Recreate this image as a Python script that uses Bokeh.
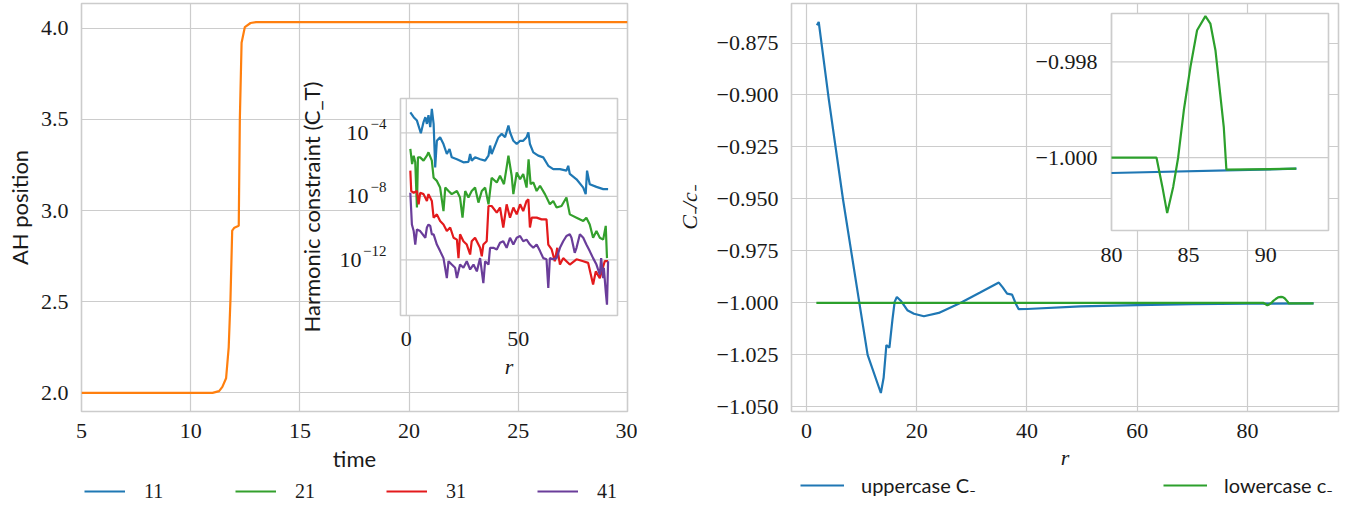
import math
from bokeh.plotting import figure
from bokeh.models import Range1d, LogScale, FixedTicker, Legend, LegendItem
from bokeh.layouts import row, column
from bokeh.embed import file_html
from bokeh.resources import INLINE
from bokeh.core.properties import value

# ---------------- data: left panel (apparent horizon position) ----------------
ah_time = [5.0, 11.0, 11.3, 11.45, 11.62, 11.74, 11.82, 11.9, 12.0, 12.2, 12.25,
           12.33, 12.48, 12.74, 13.0, 30.0]
ah_pos = [2.0, 2.0, 2.01, 2.033, 2.08, 2.25, 2.51, 2.89, 2.906, 2.916, 3.5,
          3.92, 4.006, 4.028, 4.033, 4.033]

# inset: harmonic constraint vs r for resolutions 11, 21, 31, 41
ct_r_11 = [1.8, 3.3, 4.75, 6.5, 7.7, 8.5, 9.2, 9.9, 10.7, 11.4, 12.2, 12.9, 13.65,
           15.1, 16.6, 18.1, 19.3, 20.3, 22.6, 25.5, 27.75, 28.5, 29.2, 30.7, 33.0,
           35.2, 36.7, 37.4, 38.1, 39.6, 41.1, 42.6, 44.1, 45.6, 46.3, 47.8, 49.3,
           50.8, 52.2, 53.7, 54.5, 55.2, 56.7, 58.9, 61.15, 63.4, 65.6, 68.6, 71.5,
           72.3, 73.0, 76.0, 79.0, 80.1, 80.7, 81.9, 84.9, 87.9, 90.1]
ct_11 = [2.0e-3, 9.8e-4, 6.0e-4, 9.5e-5, 4.8e-4, 9.8e-4, 3.7e-4, 1.3e-3, 2.3e-4,
         3.3e-3, 3.7e-4, 6.8e-7, 3.2e-5, 5.4e-5, 2.0e-5, 4.7e-6, 9.8e-6, 2.9e-6,
         2.2e-6, 1.4e-6, 1.5e-6, 4.7e-6, 1.8e-6, 2.9e-6, 2.2e-6, 1.8e-6, 3.7e-6,
         1.6e-5, 4.7e-6, 1.6e-5, 5.4e-5, 8.7e-5, 5.4e-5, 2.9e-4, 1.1e-4, 3.2e-5,
         2.0e-5, 3.2e-5, 3.2e-5, 5.4e-5, 1.1e-4, 2.0e-5, 6.0e-6, 3.7e-6, 2.9e-6,
         8.5e-7, 5.2e-7, 5.2e-7, 4.2e-7, 8.5e-7, 2.6e-7, 1.2e-7, 3.6e-8, 1.4e-8,
         4.2e-7, 5.9e-8, 4.0e-8, 2.9e-8, 2.9e-8]

ct_r_21 = [1.8, 2.6, 3.3, 4.0, 4.75, 5.2, 6.2, 7.7, 9.2, 9.9, 11.4, 12.2, 13.65,
           15.1, 16.6, 17.4, 18.85, 20.3, 22.6, 24.0, 25.1, 26.3, 27.75, 29.2, 30.7,
           32.2, 33.7, 35.2, 36.7, 38.1, 40.4, 41.85, 43.6, 44.8, 45.6, 47.05, 47.8,
           49.3, 50.8, 52.2, 53.7, 54.6, 55.5, 56.7, 58.2, 59.7, 61.9, 64.1, 65.6,
           67.1, 69.3, 71.5, 73.0, 76.0, 79.0, 80.4, 81.9, 83.4, 84.9, 86.4, 87.9,
           89.05, 89.6]
ct_21 = [9.8e-6, 1.1e-6, 3.7e-6, 1.4e-6, 2.0e-9, 2.9e-6, 2.9e-6, 1.8e-6, 3.7e-6,
         6.0e-6, 1.8e-6, 1.5e-7, 9.5e-8, 3.6e-8, 1.2e-9, 3.6e-8, 2.2e-8, 1.4e-8,
         2.2e-8, 8.5e-9, 4.6e-10, 2.2e-8, 8.5e-9, 2.2e-8, 3.6e-8, 4.1e-9, 2.2e-8,
         3.6e-8, 3.2e-9, 1.5e-7, 7.6e-8, 2.0e-7, 5.9e-8, 6.8e-7, 3.7e-6, 2.0e-7,
         1.4e-8, 3.2e-7, 1.2e-7, 2.6e-7, 3.6e-8, 2.2e-6, 5.9e-8, 7.6e-8, 2.2e-8,
         4.7e-8, 1.4e-8, 3.2e-9, 5.2e-9, 2.0e-9, 2.5e-9, 8.5e-9, 7.4e-10, 4.6e-10,
         2.8e-10, 4.6e-10, 1.7e-10, 2.5e-11, 6.6e-11, 2.5e-11, 1.9e-11, 1.4e-10,
         1.3e-12]

ct_r_31 = [1.8, 2.2, 3.3, 4.75, 5.5, 6.2, 7.7, 9.2, 9.9, 11.4, 12.2, 13.65, 15.1,
           16.6, 18.1, 19.6, 21.1, 22.6, 23.3, 24.0, 25.5, 27.0, 28.5, 29.2, 30.7,
           32.95, 33.7, 34.4, 35.9, 36.7, 38.1, 40.4, 41.85, 43.3, 44.8, 46.3, 47.8,
           49.3, 50.8, 52.2, 53.7, 54.5, 55.2, 56.0, 58.2, 60.4, 62.6, 63.4, 64.9,
           66.3, 67.4, 68.6, 70.05, 71.5, 73.0, 76.0, 79.0, 81.2, 83.4, 84.6, 86.4,
           88.6, 90.1]
ct_31 = [4.2e-7, 2.2e-8, 1.7e-8, 2.2e-8, 3.2e-9, 1.7e-8, 1.4e-8, 5.2e-9, 1.4e-8,
         5.2e-9, 4.6e-10, 7.4e-10, 2.8e-10, 1.7e-10, 6.6e-11, 1.1e-10, 2.5e-11,
         1.9e-11, 1.3e-12, 4.1e-11, 1.5e-11, 9.3e-12, 2.2e-12, 1.5e-11, 2.5e-11,
         5.8e-12, 1.7e-12, 9.3e-12, 1.5e-11, 2.5e-9, 2.5e-9, 9.5e-10, 2.0e-9,
         1.1e-10, 3.2e-9, 4.6e-10, 2.0e-9, 7.4e-10, 3.2e-9, 1.2e-9, 5.2e-9, 6.6e-9,
         1.1e-10, 4.6e-10, 4.6e-10, 3.6e-10, 3.6e-10, 9.3e-12, 4.6e-12, 8.3e-13,
         5.8e-12, 5.1e-13, 1.3e-12, 8.3e-13, 5.1e-13, 1.1e-12, 8.3e-13, 6.5e-13,
         2.8e-14, 1.9e-13, 7.2e-14, 8.3e-13, 8.3e-13]

ct_r_41 = [1.8, 2.5, 3.3, 4.0, 4.75, 6.2, 8.5, 9.2, 9.9, 10.7, 11.4, 12.2, 13.65,
           15.1, 16.6, 18.1, 18.85, 20.3, 21.8, 22.6, 24.0, 25.5, 27.0, 28.5, 30.0,
           31.5, 32.95, 34.4, 35.2, 36.7, 37.4, 38.9, 40.4, 41.85, 43.3, 44.8, 46.3,
           47.8, 49.3, 50.8, 52.2, 53.7, 55.2, 56.7, 58.2, 59.7, 61.15, 62.6, 63.4,
           64.1, 65.6, 67.1, 68.6, 70.05, 71.5, 73.0, 73.75, 75.2, 76.0, 77.5, 79.0,
           80.4, 81.9, 83.4, 84.9, 85.5, 86.4, 87.0, 87.9, 88.2, 89.05, 89.6, 90.1]
ct_41 = [1.7e-8, 1.7e-10, 6.6e-11, 9.3e-12, 8.3e-11, 6.6e-11, 2.5e-11, 1.1e-10,
         1.7e-10, 1.4e-10, 4.1e-11, 4.1e-11, 9.3e-12, 3.6e-12, 1.3e-12, 7.2e-14,
         8.3e-13, 5.1e-13, 3.2e-13, 7.2e-14, 5.1e-13, 3.2e-13, 8.3e-13, 2.5e-13,
         5.1e-13, 1.9e-13, 1.3e-12, 3.5e-14, 8.3e-13, 5.1e-13, 5.8e-12, 5.8e-12,
         4.6e-12, 1.2e-11, 1.5e-11, 5.8e-12, 2.5e-11, 9.3e-12, 2.5e-11, 3.2e-11,
         1.5e-11, 1.9e-11, 9.3e-12, 5.8e-12, 9.3e-12, 3.6e-12, 1.3e-12, 1.1e-12,
         1.7e-14, 1.3e-12, 1.1e-12, 1.3e-12, 5.8e-12, 1.5e-11, 3.2e-11, 4.1e-11,
         2.5e-11, 2.8e-12, 5.8e-12, 4.1e-11, 2.5e-11, 9.3e-12, 3.6e-12, 1.3e-12,
         5.1e-13, 2.8e-13, 1.2e-13, 1.3e-12, 7.2e-14, 3.2e-13, 1.0e-14, 1.5e-15,
         8.3e-13]

ct_labels = ["11", "21", "31", "41"]

# ---------------- data: right panel (C_- / c_-) ----------------
cm_r_upper = [1.9, 2.23, 2.8, 4.05, 6.65, 9.6, 11.1, 13.5, 14.0, 14.5, 15.05, 15.6,
              16.0, 16.4, 17.2, 18.3, 19.5, 21.3, 24.0, 27.9, 31.5, 34.9, 35.6,
              36.4, 37.3, 38.0, 38.5, 40.0, 49.7, 60.0, 70.0, 80.0, 92.0]
cm_upper = [-0.8665, -0.8649, -0.8765, -0.902, -0.9505, -1.0, -1.025, -1.0433,
            -1.036, -1.0203, -1.0215, -1.008, -0.9995, -0.9971, -0.9992, -1.0035,
            -1.0052, -1.0064, -1.0048, -1.0, -0.9950, -0.9902, -0.9925, -0.9955,
            -0.996, -1.0005, -1.003, -1.0029, -1.0016, -1.0010, -1.0006, -1.00032,
            -1.00023]
cm_r_lower = [1.8, 80.0, 82.92, 83.3, 83.61, 84.0, 84.32, 84.69, 85.12, 85.55,
              86.09, 86.41, 86.74, 87.28, 87.45, 91.97]
cm_lower = [-1.0, -1.0, -1.0, -1.00061, -1.001157, -1.00061, -1.0, -0.99901,
            -0.998104, -0.99734, -0.997045, -0.99720, -0.997756, -0.99936,
            -1.00025, -1.00023]
cm_labels = ["uppercase C₋", "lowercase c₋"]

# ---------------- ticks ----------------
left_xticks = [5, 10, 15, 20, 25, 30]
left_yticks = [2.0, 2.5, 3.0, 3.5, 4.0]
left_ytick_labels = ["2.0", "2.5", "3.0", "3.5", "4.0"]
in1_xticks = [0, 50]
in1_xtick_labels = ["0", "50"]
in1_yticks = [1e-4, 1e-8, 1e-12]
in1_ytick_base = ["10", "10", "10"]
in1_ytick_exp = ["−4", "−8", "−12"]
right_xticks = [0, 20, 40, 60, 80]
right_yticks = [-0.875, -0.9, -0.925, -0.95, -0.975, -1.0, -1.025, -1.05]
right_ytick_labels = ["−0.875", "−0.900", "−0.925", "−0.950", "−0.975",
                      "−1.000", "−1.025", "−1.050"]
in2_xticks = [80, 85, 90]
in2_xtick_labels = ["80", "85", "90"]
in2_yticks = [-0.998, -1.0]
in2_ytick_labels = ["−0.998", "−1.000"]

# ---------------- styling ----------------
GRID = "#cccccc"
TXT = "#1a1a1a"
SERIF = "Liberation Serif"
SANS = "Lato"
TICK_SIZE = "22px"
LABEL_SIZE = "22px"
LW = 2.2
C_ORANGE = "#ff7f0e"
C_BLUE = "#1f77b4"
C_GREEN = "#2ca02c"
INSET_COLORS = ["#1f78b4", "#33a02c", "#e31a1c", "#6a3d9a"]
FRAME_H = 408
TOTAL_H = 506
W1, W2 = 637, 714


def outer(a, b, f0, f1):
    s = (b - a) / (f1 - f0)
    return a - s * f0, a + s * (1.0 - f0)


def style(p, xticks, yticks, ylabels):
    p.background_fill_color = "white"
    p.border_fill_color = "white"
    p.outline_line_color = GRID
    p.outline_line_width = 1.6
    p.grid.grid_line_color = GRID
    p.grid.grid_line_width = 1.2
    p.xaxis.ticker = FixedTicker(ticks=xticks)
    p.yaxis.ticker = FixedTicker(ticks=yticks)
    p.yaxis.major_label_overrides = {t: l for t, l in zip(yticks, ylabels)}
    for ax in p.axis:
        ax.axis_line_color = None
        ax.major_tick_line_color = None
        ax.minor_tick_line_color = None
        ax.major_tick_out = 0
        ax.major_tick_in = 0
        ax.major_label_text_font = SERIF
        ax.major_label_text_font_size = TICK_SIZE
        ax.major_label_text_color = TXT
        ax.axis_label_text_font_size = LABEL_SIZE
        ax.axis_label_text_color = TXT
        ax.axis_label_text_font_style = "normal"
    p.xaxis.major_label_standoff = 12
    p.yaxis.major_label_standoff = 13


def inset(p, xr, yr, f, g, xticks, xlabels, yticks, log=False):
    (x0, x1), (y0, y1) = xr, yr
    p.extra_x_ranges["ix"] = Range1d(*outer(x0, x1, f[0], f[1]))
    if log:
        lo, hi = outer(math.log10(y0), math.log10(y1), g[0], g[1])
        p.extra_y_ranges["iy"] = Range1d(10 ** lo, 10 ** hi)
        p.extra_y_scales["iy"] = LogScale()
    else:
        p.extra_y_ranges["iy"] = Range1d(*outer(y0, y1, g[0], g[1]))
    kw = dict(x_range_name="ix", y_range_name="iy")
    p.quad(left=[x0], right=[x1], bottom=[y0], top=[y1], fill_color="white",
           line_color=GRID, line_width=1.6, **kw)
    p.segment(x0=xticks, x1=xticks, y0=[y0] * len(xticks), y1=[y1] * len(xticks),
              line_color=GRID, line_width=1.2, **kw)
    p.segment(x0=[x0] * len(yticks), x1=[x1] * len(yticks), y0=yticks, y1=yticks,
              line_color=GRID, line_width=1.2, **kw)
    p.text(x=xticks, y=[y0] * len(xticks), text=xlabels, y_offset=24,
           text_align="center", text_baseline="middle", text_font=value(SERIF),
           text_font_size=TICK_SIZE, text_color=TXT, **kw)
    return kw


def ylabels_plain(p, kw, x0, yticks, labels):
    p.text(x=[x0] * len(yticks), y=yticks, text=labels, x_offset=-14,
           text_align="right", text_baseline="middle", text_font=value(SERIF),
           text_font_size=TICK_SIZE, text_color=TXT, **kw)


def legend_strip(width, height, series, labels, colors, loc, glyph_w, standoff,
                 label_w, font):
    """A strip under a panel that carries the panel's legend.  The series are
    re-drawn here (outside the strip's visible range) only so that the legend
    has renderers with the right line styles."""
    q = figure(width=width, height=height, x_range=Range1d(-3, -2),
               y_range=Range1d(0, 1), x_axis_type=None, y_axis_type=None,
               output_backend="svg", toolbar_location=None, min_border=0,
               outline_line_color=None)
    q.background_fill_color = "white"
    q.border_fill_color = "white"
    q.grid.visible = False
    rs = [q.line(xs, ys, line_color=c, line_width=LW) for (xs, ys), c in zip(series, colors)]
    leg = Legend(items=[LegendItem(label=l, renderers=[r]) for l, r in zip(labels, rs)],
                 orientation="horizontal", location=loc, margin=0, padding=0,
                 spacing=0, glyph_width=glyph_w, glyph_height=24,
                 label_standoff=standoff, label_width=label_w, label_height=24,
                 border_line_color=None, background_fill_alpha=0,
                 label_text_font=font, label_text_font_size="20px",
                 label_text_color=TXT)
    q.add_layout(leg, "center")
    return q


# ================= left figure =================
P1_BOTTOM = 68
p1 = figure(frame_width=546, frame_height=FRAME_H, x_range=Range1d(5, 30),
            y_range=Range1d(1.898, 4.135), output_backend="svg",
            toolbar_location=None, min_border_left=81, min_border_right=10,
            min_border_top=3, min_border_bottom=P1_BOTTOM)
style(p1, left_xticks, left_yticks, left_ytick_labels)
p1.xaxis.axis_label = "time"
p1.yaxis.axis_label = "AH position"
p1.xaxis.axis_label_text_font = SANS
p1.yaxis.axis_label_text_font = SANS
p1.xaxis.axis_label_standoff = 4
p1.yaxis.axis_label_standoff = 5
p1.line(ah_time, ah_pos, line_color=C_ORANGE, line_width=LW)

in1_x = (-2.6, 94.3)
in1_y = (10 ** -15.5, 10 ** -1.83)
kw1 = inset(p1, in1_x, in1_y, (0.5842, 0.9817), (0.2353, 0.7672),
            in1_xticks, in1_xtick_labels, in1_yticks, log=True)
# power-of-ten labels: mantissa "10" + raised exponent
exp_w = [7.0 * sum(1 for ch in e if ch.isdigit()) + 10.0 * e.count("−") for e in in1_ytick_exp]
p1.text(x=[in1_x[0]] * 3, y=in1_yticks, text=in1_ytick_exp, x_offset=-14,
        y_offset=-9, text_align="right", text_baseline="middle",
        text_font=value(SERIF), text_font_size="15px", text_color=TXT, **kw1)
p1.text(x=[in1_x[0]] * 3, y=in1_yticks, text=in1_ytick_base,
        x_offset=[-15 - w for w in exp_w], text_align="right",
        text_baseline="middle", text_font=value(SERIF),
        text_font_size=TICK_SIZE, text_color=TXT, **kw1)

series1 = [(ct_r_11, ct_11), (ct_r_21, ct_21), (ct_r_31, ct_31), (ct_r_41, ct_41)]
for (rr, vv), col in zip(series1, INSET_COLORS):
    p1.line(rr, vv, line_color=col, line_width=LW, **kw1)
ymid1 = math.sqrt(in1_y[0] * in1_y[1])
p1.text(x=[in1_x[0]], y=[ymid1], text=["Harmonic constraint (C_T)"], angle=math.pi / 2,
        x_offset=-89, text_align="center", text_baseline="middle",
        text_font=value(SANS), text_font_size=LABEL_SIZE, text_color=TXT, **kw1)
p1.text(x=[(in1_x[0] + in1_x[1]) / 2], y=[in1_y[0]], text=["r"], y_offset=51,
        text_align="center", text_baseline="middle", text_font=value(SERIF),
        text_font_style="italic", text_font_size=LABEL_SIZE, text_color=TXT, **kw1)

# legend strip frames are aligned with the panel frames by the column layout,
# so legend x-locations are measured from each panel's frame edge.
h1 = TOTAL_H - (3 + FRAME_H + P1_BOTTOM)
leg1 = legend_strip(W1, h1, series1, ct_labels, INSET_COLORS, (3, h1 - 24),
                    41, 19, 91, SERIF)

# ================= right figure =================
P2_BOTTOM = 64
p2 = figure(frame_width=547, frame_height=FRAME_H, x_range=Range1d(-2.71, 96.51),
            y_range=Range1d(-1.0522, -0.8560), output_backend="svg",
            toolbar_location=None, min_border_left=154, min_border_right=13,
            min_border_top=3, min_border_bottom=P2_BOTTOM)
style(p2, right_xticks, right_yticks, right_ytick_labels)
p2.xaxis.axis_label = "r"
p2.yaxis.axis_label = "C₋/c₋"
for ax in (p2.xaxis[0], p2.yaxis[0]):
    ax.axis_label_text_font = SERIF
    ax.axis_label_text_font_style = "italic"
p2.xaxis.axis_label_standoff = 4
p2.yaxis.axis_label_standoff = 12
p2.line(cm_r_upper, cm_upper, line_color=C_BLUE, line_width=LW)
p2.line(cm_r_lower, cm_lower, line_color=C_GREEN, line_width=LW)

in2_x = (80.0, 94.07)
in2_y = (-1.00152, -0.99699)
kw2 = inset(p2, in2_x, in2_y, (0.585, 0.9817), (0.4436, 0.9755),
            in2_xticks, in2_xtick_labels, in2_yticks)
ylabels_plain(p2, kw2, in2_x[0], in2_yticks, in2_ytick_labels)
iu = cm_r_upper.index(80.0)
il = cm_r_lower.index(80.0)
p2.line(cm_r_upper[iu:], cm_upper[iu:], line_color=C_BLUE, line_width=LW, **kw2)
p2.line(cm_r_lower[il:], cm_lower[il:], line_color=C_GREEN, line_width=LW, **kw2)

h2 = TOTAL_H - (3 + FRAME_H + P2_BOTTOM)
series2 = [(cm_r_upper, cm_upper), (cm_r_lower, cm_lower)]
leg2 = legend_strip(W2, h2, series2, cm_labels, [C_BLUE, C_GREEN], (9, h2 - 22),
                    44, 17, 302, SANS)

layout = row(column(p1, leg1), column(p2, leg2))
open("out.html", "w").write(file_html(layout, INLINE))
